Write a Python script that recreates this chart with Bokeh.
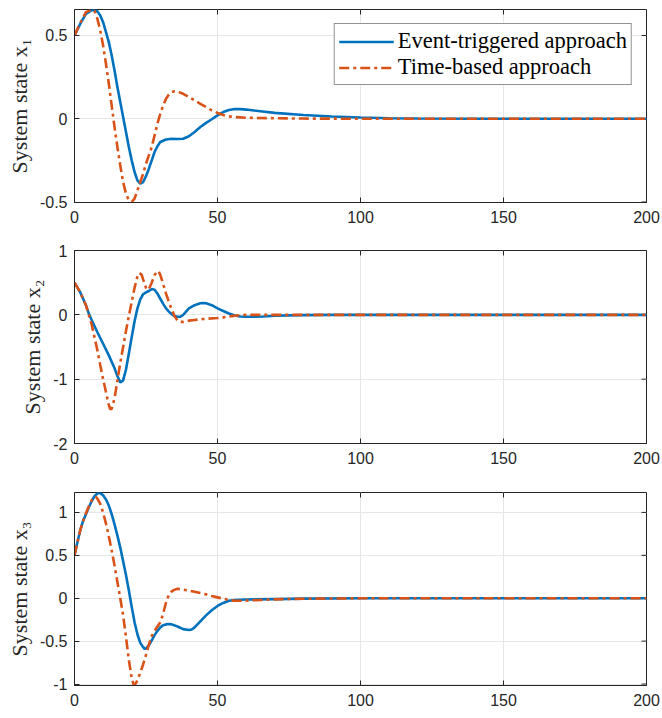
from bokeh.plotting import figure
from bokeh.layouts import column
from bokeh.models import (FixedTicker, CustomJSTickFormatter, Legend, LegendItem, Range1d)
from bokeh.embed import file_html
from bokeh.resources import INLINE

# ---------------- data ----------------
t1_evt = [0, 2, 4, 6, 7, 8, 9, 10, 11, 12, 13, 14, 15, 16, 17, 18, 19, 20, 21, 22, 23, 24, 25, 26, 27, 28, 29, 30,
          32, 34, 36, 38, 40, 42, 44, 46, 48, 50, 52, 54, 56, 58, 60, 65, 70, 80, 90, 100, 110, 120, 140, 160, 180, 200]
x1_evt = [0.5, 0.57, 0.63, 0.652, 0.653, 0.645, 0.62, 0.58, 0.52, 0.46, 0.38, 0.29, 0.19, 0.10, 0.01, -0.08, -0.17,
          -0.25, -0.32, -0.37, -0.39, -0.38, -0.345, -0.30, -0.25, -0.20, -0.165, -0.14,
          -0.125, -0.12, -0.122, -0.12, -0.105, -0.08, -0.05, -0.025, -0.003, 0.02, 0.04, 0.052, 0.058, 0.058, 0.055,
          0.045, 0.035, 0.022, 0.013, 0.007, 0.003, 0.001, 0.0, 0.0, 0.0, 0.0]

t1_time = [0, 2, 4, 6, 7, 8, 9, 10, 11, 12, 13, 14, 15, 16, 17, 18, 19, 20, 21, 22, 23, 24, 25, 26, 27, 28, 29, 30,
           31, 32, 33, 34, 35, 36, 38, 40, 42, 44, 46, 48, 50, 52, 54, 56, 60, 70, 80, 100, 200]
x1_time = [0.5, 0.575, 0.64, 0.655, 0.648, 0.60, 0.53, 0.44, 0.33, 0.21, 0.08, -0.05, -0.17, -0.28, -0.38, -0.45,
           -0.49, -0.5, -0.48, -0.43, -0.38, -0.33, -0.27, -0.22, -0.17, -0.10, -0.03, 0.03,
           0.08, 0.12, 0.145, 0.16, 0.165, 0.163, 0.15, 0.13, 0.11, 0.09, 0.07, 0.05, 0.035, 0.022, 0.014, 0.01,
           0.006, 0.003, 0.001, 0.0, 0.0]

t2_evt = [0, 2, 4, 5, 6, 8, 10, 12, 14, 15, 16, 17, 18, 19, 20, 21, 22, 23, 24, 25, 26, 27, 28, 29, 30, 31, 32, 33,
          34, 35, 36, 37, 38, 39, 40, 42, 44, 45, 46, 48, 50, 52, 54, 56, 58, 60, 63, 66, 70, 75, 80, 90, 100, 200]
x2_evt = [0.5, 0.35, 0.15, 0.02, -0.08, -0.27, -0.45, -0.63, -0.83, -0.95, -1.05, -1.02, -0.85, -0.6, -0.35, -0.1,
          0.1, 0.24, 0.32, 0.35, 0.37, 0.40, 0.39, 0.33, 0.25, 0.17, 0.10, 0.05,
          0.01, -0.02, -0.03, -0.03, 0.0, 0.05, 0.10, 0.15, 0.18, 0.185, 0.18, 0.15, 0.10, 0.06, 0.02, -0.01, -0.025,
          -0.03, -0.03, -0.025, -0.015, -0.008, -0.004, -0.001, 0.0, 0.0]

t2_time = [0, 2, 4, 5, 6, 7, 8, 9, 10, 11, 12, 12.5, 13, 14, 15, 16, 17, 18, 19, 20, 21, 22, 22.8, 23.5, 24, 25,
           25.5, 26, 27, 28, 29, 29.5, 30, 31, 32, 33, 34, 35, 36, 37, 38, 40, 42, 45, 50, 52, 55, 58, 60, 200]
x2_time = [0.5, 0.35, 0.15, 0.0, -0.15, -0.35, -0.55, -0.78, -1.0, -1.2, -1.4, -1.47, -1.46, -1.3, -1.02, -0.75,
           -0.5, -0.25, -0.02, 0.2, 0.42, 0.6, 0.65, 0.62, 0.55, 0.42,
           0.39, 0.40, 0.50, 0.62, 0.68, 0.67, 0.62, 0.48, 0.33, 0.20, 0.08, -0.02, -0.09, -0.11, -0.11, -0.09, -0.08,
           -0.065, -0.05, -0.04, -0.02, -0.005, 0.0, 0.0]

t3_evt = [0, 1, 2, 3, 4, 5, 6, 7, 8, 8.5, 9, 10, 11, 12, 13, 14, 15, 16, 17, 18, 19, 20, 21, 22, 23, 24, 24.5, 25,
          26, 27, 28, 29, 30, 31, 32, 33, 34, 36, 38, 40, 41, 42, 44, 46, 48, 50, 52, 54, 56, 60, 70, 80, 100, 200]
x3_evt = [0.5, 0.65, 0.79, 0.9, 0.98, 1.06, 1.13, 1.19, 1.22, 1.23, 1.225, 1.2, 1.15, 1.08, 0.98, 0.86, 0.73, 0.59,
          0.43, 0.27, 0.09, -0.10, -0.28, -0.42, -0.52, -0.57, -0.59, -0.585,
          -0.55, -0.49, -0.43, -0.38, -0.34, -0.315, -0.305, -0.30, -0.305, -0.33, -0.36, -0.37, -0.365, -0.34,
          -0.27, -0.20, -0.14, -0.09, -0.055, -0.03, -0.02, -0.015, -0.01, -0.005, 0.0, 0.0]

t3_time = [0, 1, 2, 3, 4, 5, 6, 7, 7.5, 8, 9, 10, 11, 12, 13, 14, 15, 16, 17, 18, 19, 20, 20.7, 21.5, 22, 23, 24,
           25, 26, 27, 28, 29, 30, 31, 32, 33, 34, 35, 36, 37, 38, 40, 42, 44, 46, 48, 50, 52, 54, 56, 58, 60, 65,
           70, 80, 90, 100, 120, 200]
x3_time = [0.5, 0.65, 0.79, 0.9, 0.99, 1.07, 1.14, 1.18, 1.18, 1.16, 1.1, 1.0, 0.87, 0.72, 0.56, 0.38, 0.19, 0.0,
           -0.2, -0.45, -0.72, -0.93, -1.01, -0.99, -0.95, -0.87, -0.77,
           -0.66, -0.54, -0.44, -0.38, -0.33, -0.28, -0.18, -0.05, 0.04, 0.08, 0.10, 0.11, 0.105, 0.10, 0.09, 0.075,
           0.06, 0.045, 0.025, 0.01, -0.005, -0.02, -0.03, -0.03, -0.028, -0.02,
           -0.013, -0.006, -0.003, -0.001, 0.0, 0.0]

x_ticks = [0, 50, 100, 150, 200]
y_ticks = [[-0.5, 0, 0.5], [-2, -1, 0, 1], [-1, -0.5, 0, 0.5, 1]]
x_lim = (0, 200)
y_ranges = [(-0.503, 0.656), (-2, 1), (-1.017, 1.232)]
y_labels = ["System state x\u2081", "System state x\u2082", "System state x\u2083"]
legend_labels = ["Event-triggered approach", "Time-based approach"]

series = [(t1_evt, x1_evt, t1_time, x1_time),
          (t2_evt, x2_evt, t2_time, x2_time),
          (t3_evt, x3_evt, t3_time, x3_time)]

BLUE = "#0072BD"
ORANGE = "#D95319"
AX = "#262626"
fmt = CustomJSTickFormatter(code="return String(tick);")

FW, FH = 572, 193
TICK = 5
borders_top = [9, 10, 13]
borders_bottom = [38, 36, 32]

figs = []
for i in range(3):
    y0, y1 = y_ranges[i]
    p = figure(frame_width=FW, frame_height=FH, output_backend="svg", toolbar_location=None,
               x_range=Range1d(*x_lim), y_range=Range1d(y0, y1),
               min_border_left=74, min_border_right=16,
               min_border_top=borders_top[i], min_border_bottom=borders_bottom[i],
               background_fill_color="white", border_fill_color="white")
    p.outline_line_color = AX
    p.outline_line_width = 1

    p.xgrid.ticker = FixedTicker(ticks=x_ticks)
    p.ygrid.ticker = FixedTicker(ticks=y_ticks[i])
    p.grid.grid_line_color = "#e6e6e6"
    p.grid.grid_line_width = 1

    # inward tick marks on the top and right edges of the box
    dy = TICK * (y1 - y0) / FH
    dx = TICK * (x_lim[1] - x_lim[0]) / FW
    p.segment(x0=x_ticks, y0=[y1] * len(x_ticks), x1=x_ticks, y1=[y1 - dy] * len(x_ticks),
              line_color=AX, line_width=1)
    p.segment(x0=[x_lim[1]] * len(y_ticks[i]), y0=y_ticks[i], x1=[x_lim[1] - dx] * len(y_ticks[i]),
              y1=y_ticks[i], line_color=AX, line_width=1)

    te, ye, tt, yt = series[i]
    r1 = p.line(te, ye, line_color=BLUE, line_width=2.6)
    r2 = p.line(tt, yt, line_color=ORANGE, line_width=2.6, line_dash="10 4 3 4")

    for ax in (p.xaxis[0], p.yaxis[0]):
        ax.axis_line_color = AX
        ax.major_tick_line_color = AX
        ax.major_tick_in = TICK
        ax.major_tick_out = 0
        ax.minor_tick_line_color = None
        ax.major_label_text_font = "Liberation Sans"
        ax.major_label_text_font_size = "16px"
        ax.major_label_text_color = AX
        ax.formatter = fmt
    p.xaxis[0].ticker = FixedTicker(ticks=x_ticks)
    p.yaxis[0].ticker = FixedTicker(ticks=y_ticks[i])
    p.xaxis[0].major_label_standoff = 8
    p.yaxis[0].major_label_standoff = 7
    p.yaxis[0].axis_label = y_labels[i]
    p.yaxis[0].axis_label_text_font = "Liberation Serif"
    p.yaxis[0].axis_label_text_font_style = "normal"
    p.yaxis[0].axis_label_text_font_size = "22px"
    p.yaxis[0].axis_label_text_color = AX
    p.yaxis[0].axis_label_standoff = 5

    if i == 0:
        leg = Legend(items=[LegendItem(label=legend_labels[0], renderers=[r1]),
                            LegendItem(label=legend_labels[1], renderers=[r2])],
                     location="top_right")
        leg.margin = 14
        leg.padding = 4
        leg.spacing = 0
        leg.glyph_width = 55
        leg.glyph_height = 25
        leg.label_height = 25
        leg.label_standoff = 4
        leg.label_text_font = "Liberation Serif"
        leg.label_text_font_size = "22.5px"
        leg.label_text_color = "black"
        leg.border_line_color = AX
        leg.border_line_width = 1
        leg.background_fill_color = "white"
        leg.background_fill_alpha = 1
        p.add_layout(leg, "center")
    figs.append(p)

layout = column(*figs, spacing=0)
open("out.html", "w").write(file_html(layout, INLINE))
